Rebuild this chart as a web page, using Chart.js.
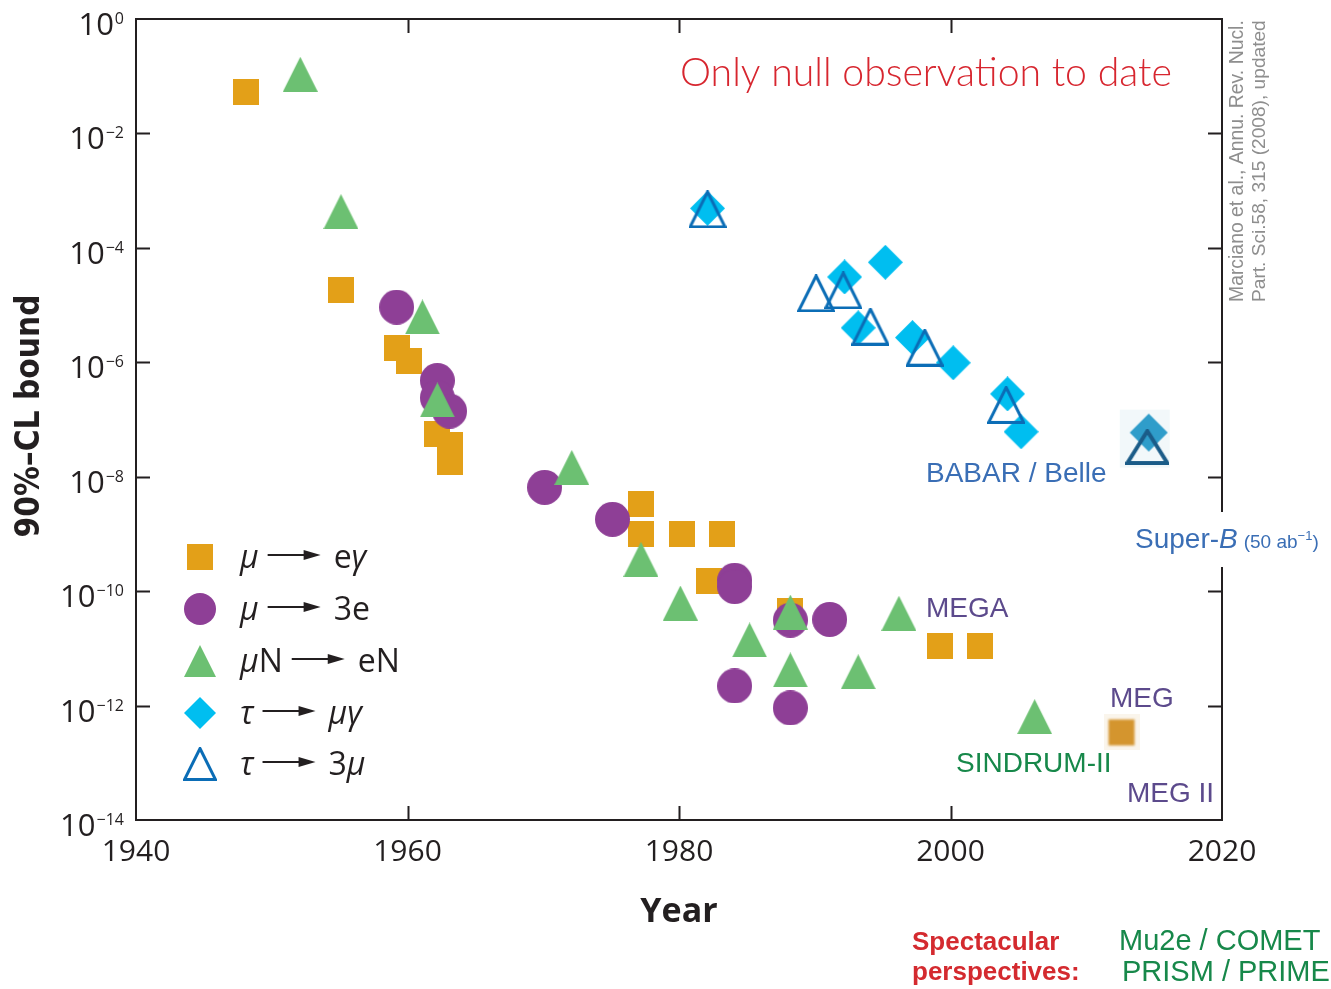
<!DOCTYPE html>
<html lang="en">

<head>
  <meta charset="utf-8">
  <script src="https://cdn.jsdelivr.net/npm/chart.js@4.4.1/dist/chart.umd.min.js"></script>
  <title>Lepton flavour violation limits</title>
  <style>
    html, body { margin: 0; padding: 0; background: #fff; }
  </style>
</head>

<body>

  <canvas id="myChart" width="1331" height="989"></canvas>

  <script>
    // mu -> e gamma
    var muEgYears  = [1948.1, 1955.1, 1959.2, 1960.1, 1962.2, 1963.1, 1963.1, 1977.2, 1977.2, 1980.2, 1983.2, 1982.2, 1988.2, 1999.2, 2002.2];
    var muEgBounds = [5.3e-2, 1.8e-5, 1.8e-6, 1.06e-6, 5.5e-8, 3.6e-8, 1.8e-8, 3.3e-9, 1.0e-9, 1.0e-9, 1.0e-9, 1.5e-10, 4.5e-11, 1.1e-11, 1.1e-11];
    // mu -> 3e
    var mu3eYears  = [1959.2, 1962.2, 1962.2, 1963.1, 1970.1, 1975.1, 1984.1, 1984.1, 1988.2, 1991.1, 1984.1, 1988.2];
    var mu3eBounds = [9.2e-6, 4.8e-7, 2.4e-7, 1.4e-7, 6.5e-9, 1.8e-9, 1.55e-10, 1.2e-10, 3.1e-11, 3.2e-11, 2.2e-12, 9.1e-13];
    // mu N -> e N
    var muNYears  = [1952.1, 1955.1, 1961.1, 1962.2, 1972.1, 1977.2, 1980.1, 1985.2, 1988.2, 1988.2, 1993.2, 1996.2, 2006.2];
    var muNBounds = [1.08e-1, 4.3e-4, 6.2e-6, 2.2e-7, 1.45e-8, 3.6e-10, 6.2e-11, 1.4e-11, 4.3e-11, 4.2e-12, 3.9e-12, 4.1e-11, 6.4e-13];
    // tau -> mu gamma
    var tauMgYears  = [1982.1, 1992.2, 1995.2, 1993.2, 1997.2, 2000.2, 2004.2, 2005.2];
    var tauMgBounds = [4.9e-4, 3.1e-5, 5.6e-5, 4.0e-6, 2.7e-6, 9.8e-7, 2.8e-7, 6.1e-8];
    // tau -> 3 mu
    var tau3mYears  = [1982.1, 1990.1, 1992.1, 1994.1, 1998.1, 2004.1];
    var tau3mBounds = [4.7e-4, 1.6e-5, 1.8e-5, 4.2e-6, 1.8e-6, 1.8e-7];
    // projected sensitivities
    var megYear = [2012.6],   megBound = [3.4e-13];
    var superBMgYear = [2014.6], superBMgBound = [5.9e-8];
    var superB3mYear = [2014.5], superB3mBound = [3.3e-8];

    var yearTicks = [1940, 1960, 1980, 2000, 2020];
    var boundTicks = [1e-14, 1e-12, 1e-10, 1e-8, 1e-6, 1e-4, 1e-2, 1];

    var channelFrom = ['μ', 'μ', 'μN', 'τ', 'τ'];
    var channelTo = ['eγ', '3e', 'eN', 'μγ', '3μ'];

    var INK = '#231F20';
    var FONT = '"Open Sans", "Noto Sans", sans-serif';
    var ARIAL = '"Liberation Sans", Arial, sans-serif';

    function points(xs, ys) {
      return xs.map(function(x, i) { return { x: x, y: ys[i] }; });
    }

    function sprite(w, h, paint) {
      var c = document.createElement('canvas');
      c.width = w;
      c.height = h;
      paint(c.getContext('2d'), w, h);
      return c;
    }

    function square(size, color) {
      return sprite(size, size, function(ctx) {
        ctx.fillStyle = color;
        ctx.fillRect(0, 0, size, size);
      });
    }
    function circle(size, color) {
      return sprite(size, size, function(ctx) {
        ctx.fillStyle = color;
        ctx.beginPath();
        ctx.arc(size / 2, size / 2, size / 2, 0, Math.PI * 2);
        ctx.fill();
      });
    }
    function triangle(size, color) {
      return sprite(size, size, function(ctx) {
        ctx.fillStyle = color;
        ctx.beginPath();
        ctx.moveTo(size / 2, 0);
        ctx.lineTo(size, size);
        ctx.lineTo(0, size);
        ctx.closePath();
        ctx.fill();
      });
    }
    function diamond(size, color) {
      return sprite(size, size, function(ctx) {
        ctx.fillStyle = color;
        ctx.beginPath();
        ctx.moveTo(size / 2, 0);
        ctx.lineTo(size, size / 2);
        ctx.lineTo(size / 2, size);
        ctx.lineTo(0, size / 2);
        ctx.closePath();
        ctx.fill();
      });
    }
    function openTriangle(size, color, lw) {
      return sprite(size, size, function(ctx) {
        var m = lw / 2;
        ctx.strokeStyle = color;
        ctx.lineWidth = lw;
        ctx.lineJoin = 'miter';
        ctx.beginPath();
        ctx.moveTo(size / 2, m);
        ctx.lineTo(size - m, size - m);
        ctx.lineTo(m, size - m);
        ctx.closePath();
        ctx.stroke();
      });
    }

    var ORANGE = '#E3A018', PURPLE = '#8E3F96', GREEN = '#6CC072', CYAN = '#00BEF0', BLUE = '#0B6DB6';

    var markers = [
      square(26, ORANGE),
      circle(35, PURPLE),
      triangle(35, GREEN),
      diamond(35, CYAN),
      openTriangle(38, BLUE, 3)
    ];
    var legendMarkers = [
      square(26, ORANGE),
      circle(32, PURPLE),
      triangle(32, GREEN),
      diamond(32, CYAN),
      openTriangle(34, BLUE, 3)
    ];

    // softer, pasted-in looking markers for the future experiments
    var megMarker = sprite(36, 36, function(ctx) {
      ctx.fillStyle = 'rgba(240,225,200,0.35)';
      ctx.fillRect(0, 0, 36, 36);
      ctx.filter = 'blur(0.8px)';
      ctx.fillStyle = '#D4952E';
      ctx.fillRect(5, 5, 26, 26);
    });
    var superBMgMarker = sprite(64, 76, function(ctx) {
      ctx.fillStyle = '#F2F8FA';
      ctx.fillRect(3, 15, 50, 58);
      ctx.filter = 'blur(0.6px)';
      ctx.fillStyle = '#2F9DCA';
      ctx.beginPath();
      ctx.moveTo(32, 19);
      ctx.lineTo(51, 38);
      ctx.lineTo(32, 57);
      ctx.lineTo(13, 38);
      ctx.closePath();
      ctx.fill();
    });
    var superB3mMarker = sprite(44, 36, function(ctx) {
      ctx.filter = 'blur(0.5px)';
      ctx.strokeStyle = '#1B5C88';
      ctx.lineWidth = 4;
      ctx.beginPath();
      ctx.moveTo(22, 2);
      ctx.lineTo(42, 34);
      ctx.lineTo(2, 34);
      ctx.closePath();
      ctx.stroke();
    });

    function set(label, xs, ys, style, order) {
      return {
        label: label,
        data: points(xs, ys),
        pointStyle: style,
        pointRadius: 18,
        showLine: false,
        order: order
      };
    }

    // splits a label into runs so Greek letters come out in italics
    function runs(text) {
      var out = [];
      for (var ch of text) {
        var it = /[\u0370-\u03FF]/.test(ch);
        if (out.length && out[out.length - 1].italic === it) out[out.length - 1].text += ch;
        else out.push({ text: ch, italic: it });
      }
      return out;
    }

    function drawRuns(ctx, text, x, y, size, family) {
      runs(text).forEach(function(r) {
        ctx.font = (r.italic ? 'italic ' : '') + size + 'px ' + family;
        ctx.fillText(r.text, x, y);
        x += ctx.measureText(r.text).width;
      });
      return x;
    }

    function fitSize(ctx, text, font, target) {
      ctx.font = font.replace('SIZE', '40px');
      return 40 * target / ctx.measureText(text).width;
    }

    var decorations = {
      id: 'decorations',
      afterDraw: function(chart) {
        var ctx = chart.ctx;
        var xs = chart.scales.x, ys = chart.scales.y;
        var a = chart.chartArea;
        ctx.save();

        // frame with inward ticks
        ctx.strokeStyle = INK;
        ctx.lineWidth = 2;
        ctx.strokeRect(a.left, a.top, a.right - a.left, a.bottom - a.top);
        ctx.beginPath();
        yearTicks.slice(1, -1).forEach(function(v) {
          var px = Math.round(xs.getPixelForValue(v)) + 0.5;
          ctx.moveTo(px, a.bottom); ctx.lineTo(px, a.bottom - 14);
          ctx.moveTo(px, a.top); ctx.lineTo(px, a.top + 14);
        });
        boundTicks.slice(1, -1).forEach(function(v) {
          var py = Math.round(ys.getPixelForValue(v)) + 0.5;
          ctx.moveTo(a.left, py); ctx.lineTo(a.left + 14, py);
          ctx.moveTo(a.right, py); ctx.lineTo(a.right - 14, py);
        });
        ctx.stroke();

        // power-of-ten labels on the y axis
        ctx.fillStyle = INK;
        ctx.textAlign = 'right';
        ctx.textBaseline = 'alphabetic';
        boundTicks.forEach(function(v) {
          var py = ys.getPixelForValue(v);
          var exp = Math.round(Math.log10(v));
          var sup = exp === 0 ? '0' : '\u2212' + Math.abs(exp);
          ctx.font = '16px ' + FONT;
          ctx.fillText(sup, 124, py + 5);
          var sw = ctx.measureText(sup).width;
          ctx.font = '31px ' + FONT;
          ctx.fillText('10', 124 - sw - 1, py + 16);
        });

        // axis titles
        ctx.textAlign = 'center';
        ctx.font = 'bold 34px ' + FONT;
        ctx.fillText('Year', (a.left + a.right) / 2, 922);

        var yt = '90%\u2013CL bound';
        var yFam = '"Liberation Sans Narrow", "DejaVu Sans Condensed", sans-serif';
        var ysz = fitSize(ctx, yt, 'bold SIZE ' + yFam, 243);
        ctx.save();
        ctx.translate(30, 416);
        ctx.rotate(-Math.PI / 2);
        ctx.font = 'bold ' + ysz + 'px ' + yFam;
        ctx.textBaseline = 'middle';
        ctx.fillText(yt, 0, 0);
        ctx.restore();

        // legend
        ctx.textAlign = 'left';
        var rowY = [557, 609, 661, 713, 764];
        rowY.forEach(function(ry, i) {
          var m = legendMarkers[i];
          ctx.drawImage(m, 200 - m.width / 2, ry - m.height / 2);
          ctx.fillStyle = INK;
          var x = drawRuns(ctx, channelFrom[i], 240, ry + 11, 32, FONT);
          var ax = x + 9, ay = ry - 2;
          ctx.strokeStyle = INK;
          ctx.lineWidth = 2;
          ctx.beginPath();
          ctx.moveTo(ax, ay);
          ctx.lineTo(ax + 40, ay);
          ctx.stroke();
          ctx.beginPath();
          ctx.moveTo(ax + 53, ay);
          ctx.lineTo(ax + 36, ay - 5);
          ctx.lineTo(ax + 36, ay + 5);
          ctx.closePath();
          ctx.fill();
          drawRuns(ctx, channelTo[i], ax + 66, ry + 11, 32, FONT);
        });

        // headline
        var head = 'Only null observation to date';
        var lightFam = 'Lato, "Open Sans", sans-serif';
        ctx.fillStyle = '#D7262F';
        ctx.font = '300 ' + fitSize(ctx, head, '300 SIZE ' + lightFam, 492) + 'px ' + lightFam;
        ctx.fillText(head, 680, 86);

        // experiment labels
        ctx.font = '28px ' + ARIAL;
        ctx.fillStyle = '#3A6EB5';
        ctx.fillText('BABAR / Belle', 926, 482);
        ctx.fillStyle = '#5C4A8C';
        ctx.fillText('MEGA', 926, 617);
        ctx.fillText('MEG', 1110, 707);
        ctx.fillText('MEG II', 1127, 802);
        ctx.fillStyle = '#17884A';
        ctx.fillText('SINDRUM-II', 956, 772);

        // Super-B label sits on a white patch that breaks the right spine
        ctx.fillStyle = '#fff';
        ctx.fillRect(1128, 512, 203, 55);
        ctx.fillStyle = '#3A6EB5';
        var sx = 1135;
        ctx.font = '28px ' + ARIAL;
        ctx.fillText('Super-', sx, 548);
        sx += ctx.measureText('Super-').width;
        ctx.font = 'italic 28px ' + ARIAL;
        ctx.fillText('B', sx, 548);
        sx += ctx.measureText('B').width + 6;
        ctx.font = '19px ' + ARIAL;
        ctx.fillText('(50 ab', sx, 548);
        sx += ctx.measureText('(50 ab').width;
        ctx.font = '13px ' + ARIAL;
        ctx.fillText('\u22121', sx, 540);
        sx += ctx.measureText('\u22121').width;
        ctx.font = '19px ' + ARIAL;
        ctx.fillText(')', sx, 548);

        // reference note along the right edge
        var cite = ['Marciano et al., Annu. Rev. Nucl.', 'Part. Sci.58, 315 (2008), updated'];
        ctx.fillStyle = '#8E8E8E';
        [1238, 1260].forEach(function(cx, i) {
          ctx.save();
          ctx.translate(cx, 302);
          ctx.rotate(-Math.PI / 2);
          ctx.textBaseline = 'middle';
          ctx.font = '300 ' + fitSize(ctx, cite[i], '300 SIZE ' + ARIAL, 282) + 'px ' + ARIAL;
          ctx.fillText(cite[i], 0, 0);
          ctx.restore();
        });

        // outlook
        ctx.fillStyle = '#D42A2F';
        ctx.font = 'bold 26px ' + ARIAL;
        ctx.fillText('Spectacular', 912, 950);
        ctx.fillText('perspectives:', 912, 980);
        ctx.fillStyle = '#17884A';
        ctx.font = '29px ' + ARIAL;
        ctx.fillText('Mu2e / COMET', 1119, 950);
        ctx.fillText('PRISM / PRIME', 1122, 981);

        ctx.restore();
      }
    };

    const data = {
      datasets: [
        set('μ → eγ', muEgYears, muEgBounds, markers[0], 6),
        set('μ → eγ (MEG)', megYear, megBound, megMarker, 6),
        set('μ → 3e', mu3eYears, mu3eBounds, markers[1], 5),
        set('μN → eN', muNYears, muNBounds, markers[2], 4),
        set('τ → μγ', tauMgYears, tauMgBounds, markers[3], 3),
        set('τ → μγ (Super-B)', superBMgYear, superBMgBound, superBMgMarker, 3),
        set('τ → 3μ', tau3mYears, tau3mBounds, markers[4], 2),
        set('τ → 3μ (Super-B)', superB3mYear, superB3mBound, superB3mMarker, 1)
      ]
    };

    const config = {
      type: 'scatter',
      data: data,
      options: {
        responsive: false,
        animation: false,
        events: [],
        layout: { padding: { left: 0, top: 17, right: 109, bottom: 0 } },
        plugins: {
          legend: { display: false },
          tooltip: { enabled: false }
        },
        scales: {
          x: {
            type: 'linear',
            min: 1940,
            max: 2020,
            afterBuildTicks: function(scale) {
              scale.ticks = yearTicks.map(function(v) { return { value: v }; });
            },
            ticks: {
              color: INK,
              padding: 14,
              font: { family: FONT, size: 30 },
              callback: function(value) { return String(value); }
            },
            grid: { display: false, drawTicks: false },
            border: { display: false },
            afterFit: function(scale) { scale.height = 169; }
          },
          y: {
            type: 'logarithmic',
            min: 1e-14,
            max: 1,
            afterBuildTicks: function(scale) {
              scale.ticks = boundTicks.map(function(v) { return { value: v }; });
            },
            ticks: { display: false },
            grid: { display: false, drawTicks: false },
            border: { display: false },
            afterFit: function(scale) { scale.width = 136; }
          }
        }
      },
      plugins: [decorations]
    };

    var myChart = new Chart(document.getElementById('myChart'), config);
  </script>
</body>

</html>
